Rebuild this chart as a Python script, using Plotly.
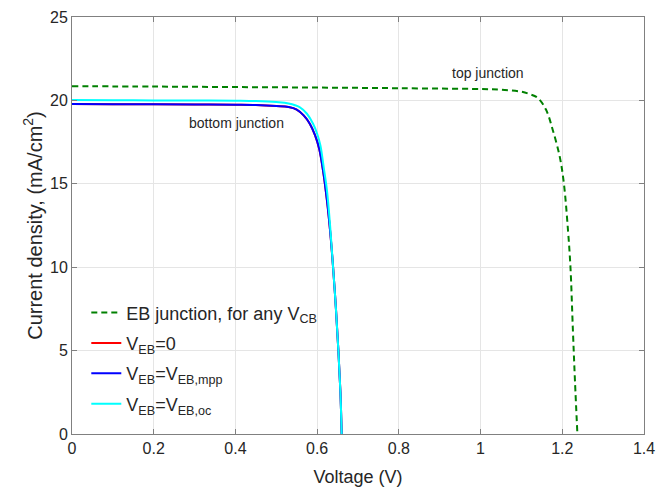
import plotly.graph_objects as go

# Top junction (EB junction, for any V_CB)
v_top = [0, 0.2, 0.4, 0.6, 0.8, 1.0, 1.05, 1.1, 1.12, 1.14, 1.16, 1.177, 1.194, 1.204, 1.214, 1.220, 1.226, 1.231, 1.237]
j_top = [20.85, 20.83, 20.8, 20.77, 20.73, 20.68, 20.64, 20.52, 20.38, 20.15, 19.45, 18.2, 16.6, 15.0, 12.2, 10.0, 6.2, 3.2, 0]

# Bottom junction, V_EB = 0 (hidden under V_EB = V_EB,mpp)
v_zero = [0, 0.1, 0.2, 0.3, 0.4, 0.45, 0.5, 0.53, 0.55, 0.567, 0.582, 0.595, 0.605, 0.615, 0.624, 0.632, 0.639, 0.646, 0.652, 0.657, 0.660]
j_zero = [19.78, 19.77, 19.77, 19.76, 19.74, 19.72, 19.66, 19.6, 19.45, 19.1, 18.6, 17.9, 17.1, 15.7, 14.0, 12.1, 10.0, 7.5, 5.0, 2.5, 0]

# Bottom junction, V_EB = V_EB,mpp
v_mpp = [0, 0.1, 0.2, 0.3, 0.4, 0.45, 0.5, 0.53, 0.55, 0.567, 0.582, 0.595, 0.605, 0.615, 0.624, 0.632, 0.639, 0.646, 0.652, 0.657, 0.660]
j_mpp = [19.78, 19.77, 19.77, 19.76, 19.74, 19.72, 19.66, 19.6, 19.45, 19.1, 18.6, 17.9, 17.1, 15.7, 14.0, 12.1, 10.0, 7.5, 5.0, 2.5, 0]

# Bottom junction, V_EB = V_EB,oc
v_oc = [0, 0.1, 0.2, 0.3, 0.4, 0.45, 0.5, 0.53, 0.557, 0.575, 0.59, 0.6, 0.608, 0.616, 0.624, 0.632, 0.639, 0.646, 0.652, 0.657, 0.660]
j_oc = [20.02, 20.01, 20.0, 20.0, 19.98, 19.96, 19.9, 19.82, 19.6, 19.2, 18.6, 18.0, 17.3, 16.0, 14.6, 12.4, 10.0, 7.5, 5.0, 2.5, 0]

x_ticks = [0, 0.2, 0.4, 0.6, 0.8, 1.0, 1.2, 1.4]
x_tick_text = ["0", "0.2", "0.4", "0.6", "0.8", "1", "1.2", "1.4"]
y_ticks = [0, 5, 10, 15, 20, 25]

FONT = "Liberation Sans, Arial, sans-serif"
TXT = "#262626"

fig = go.Figure()
fig.add_trace(go.Scatter(x=v_top, y=j_top, mode="lines", line_shape="spline",
                         line=dict(color="#008000", width=2, dash="6px,4px"),
                         legendgroup="a",
                         name="EB junction, for any V<sub>CB</sub>"))
fig.add_trace(go.Scatter(x=v_zero, y=j_zero, mode="lines", line_shape="spline",
                         line=dict(color="#FF0000", width=2),
                         legendgroup="b",
                         name="V<sub>EB</sub>=0"))
fig.add_trace(go.Scatter(x=v_mpp, y=j_mpp, mode="lines", line_shape="spline",
                         line=dict(color="#0000FF", width=2),
                         legendgroup="c",
                         name="V<sub>EB</sub>=V<sub>EB,mpp</sub>"))
fig.add_trace(go.Scatter(x=v_oc, y=j_oc, mode="lines", line_shape="spline",
                         line=dict(color="#00FFFF", width=2),
                         legendgroup="d",
                         name="V<sub>EB</sub>=V<sub>EB,oc</sub>"))

fig.add_annotation(x=1.018, y=21.66, text="top junction", showarrow=False,
                   font=dict(family=FONT, size=14, color=TXT))
fig.add_annotation(x=0.402, y=18.62, text="bottom junction", showarrow=False,
                   font=dict(family=FONT, size=14, color=TXT))

axis_common = dict(showline=True, linecolor="#808080", linewidth=1, mirror="ticks",
                   ticks="inside", ticklen=5, tickcolor="#808080",
                   showgrid=True, gridcolor="#e5e5e5", gridwidth=1, zeroline=False,
                   automargin=False,
                   tickfont=dict(family=FONT, size=16, color=TXT))

fig.update_xaxes(range=[0, 1.4], tickvals=x_ticks, ticktext=x_tick_text,
                 title_text="Voltage (V)", title_standoff=14,
                 title_font=dict(family=FONT, size=18, color=TXT), **axis_common)
fig.update_yaxes(range=[0, 25], tickvals=y_ticks,
                 title_text="Current density, (mA/cm<sup>2</sup>)", title_standoff=2,
                 title_font=dict(family=FONT, size=20, color=TXT), **axis_common)

fig.update_layout(
    width=659, height=495,
    margin=dict(l=72, r=15, t=17, b=61),
    paper_bgcolor="white", plot_bgcolor="white",
    font=dict(family=FONT, color=TXT),
    legend=dict(x=0.025, y=0.335, xanchor="left", yanchor="top",
                bgcolor="rgba(255,255,255,0)", borderwidth=0,
                font=dict(family=FONT, size=18, color=TXT),
                itemwidth=30, tracegroupgap=4),
    showlegend=True,
)

fig.write_html("out.html")
